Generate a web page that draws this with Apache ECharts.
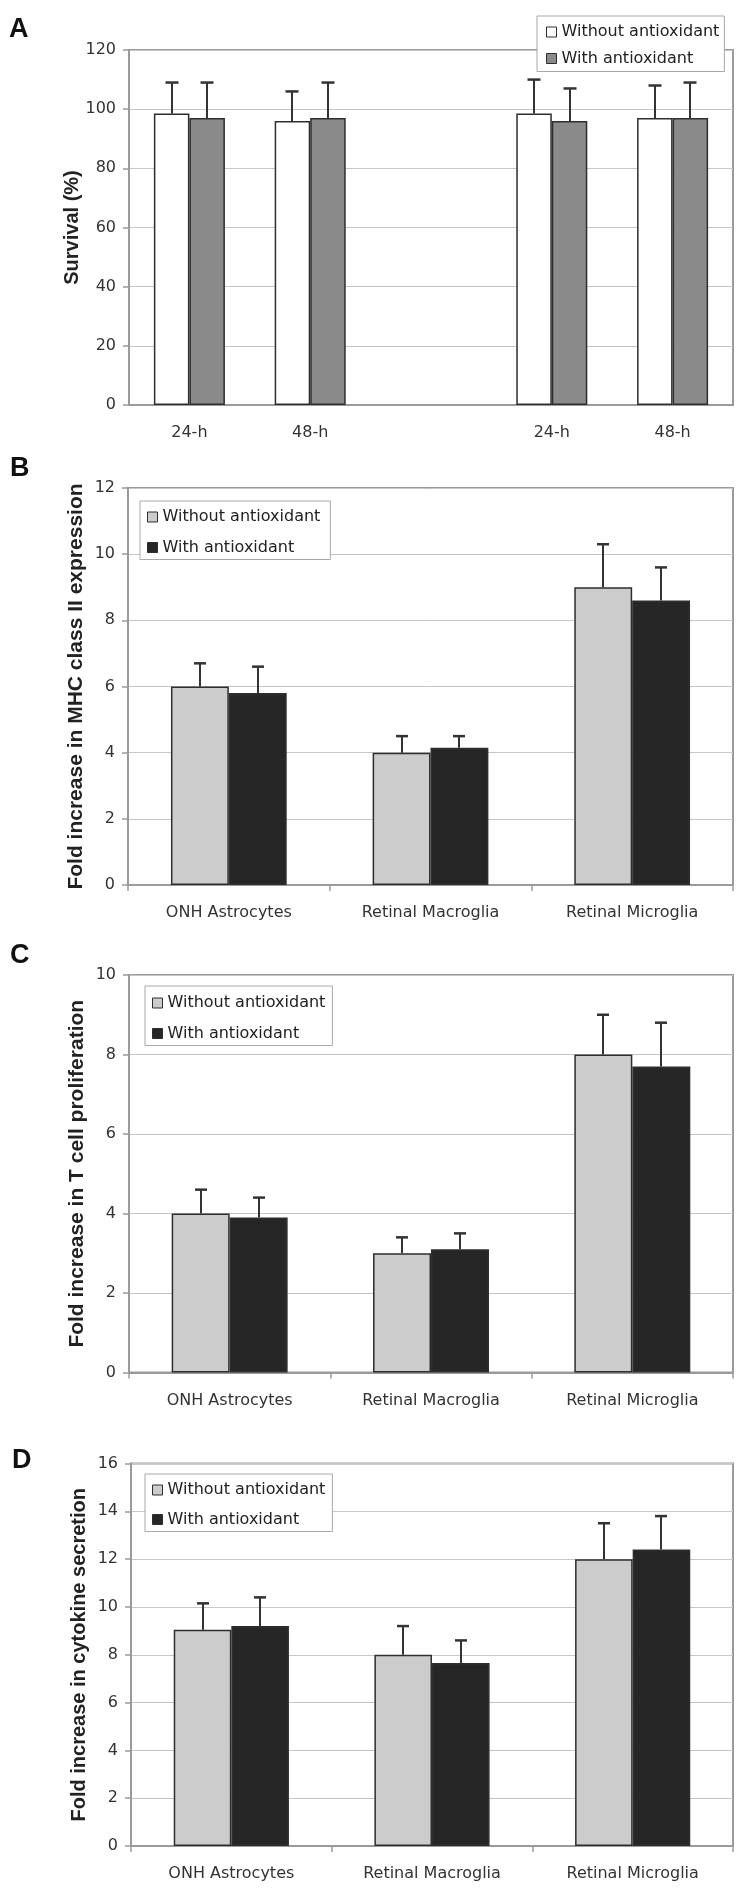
<!DOCTYPE html>
<html>
<head>
<meta charset="utf-8">
<script src="https://cdn.jsdelivr.net/npm/echarts@6/dist/echarts.min.js"></script>
<style>
html,body{margin:0;padding:0;background:#fff;width:750px;height:1894px;overflow:hidden;}
.p{position:absolute;left:0;width:750px;}
</style>
</head>
<body>
<div id="pa" class="p" style="top:0;height:447px"></div>
<div id="pb" class="p" style="top:447px;height:488px"></div>
<div id="pc" class="p" style="top:935px;height:490px"></div>
<div id="pd" class="p" style="top:1425px;height:469px"></div>
<script>
// ---------- data ----------
const legendNames = ['Without antioxidant', 'With antioxidant'];

// Panel A: survival
const survivalCats = ['24-h', '48-h', '', '24-h', '48-h'];
const survivalWithout = [98.5, 96, '-', 98.5, 97];
const survivalWithoutErr = [10.5, 10, '-', 11.5, 11];
const survivalWith = [97, 97, '-', 96, 97];
const survivalWithErr = [12, 12, '-', 11, 12];

// Panels B-D: cell types
const cellCats = ['ONH Astrocytes', 'Retinal Macroglia', 'Retinal Microglia'];

const mhcWithout = [6.0, 4.0, 9.0];
const mhcWithoutErr = [0.7, 0.5, 1.3];
const mhcWith = [5.8, 4.15, 8.6];
const mhcWithErr = [0.8, 0.35, 1.0];

const tcellWithout = [4.0, 3.0, 8.0];
const tcellWithoutErr = [0.6, 0.4, 1.0];
const tcellWith = [3.9, 3.1, 7.7];
const tcellWithErr = [0.5, 0.4, 1.1];

const cytoWithout = [9.05, 8.0, 12.0];
const cytoWithoutErr = [1.1, 1.2, 1.5];
const cytoWith = [9.2, 7.65, 12.4];
const cytoWithErr = [1.2, 0.95, 1.4];

// ---------- helpers ----------
const TICK_FONT = '"DejaVu Sans", Arial, sans-serif';
const TITLE_FONT = '"Liberation Sans", Arial, sans-serif';
const AXIS_GRAY = '#9a9a9a';
const BORDER = '#2e2e2e';

function errSeries(vals, errs, side, pct, capW) {
  const data = [];
  vals.forEach(function (v, i) {
    if (v !== '-' && errs[i] !== '-') data.push([i, v, errs[i]]);
  });
  return {
    type: 'custom', data: data, z: 5, silent: true,
    encode: { x: 0, y: 1 },
    renderItem: function (params, api) {
      const i = api.value(0), v = api.value(1), e = api.value(2);
      const cw = api.size([1, 0])[0];
      const dx = side * cw * pct / 2;
      const p0 = api.coord([i, v]);
      const p1 = api.coord([i, v + e]);
      const x = Math.round(p0[0] + dx);
      return {
        type: 'group', children: [
          { type: 'line', shape: { x1: x, y1: p0[1], x2: x, y2: p1[1] }, style: { stroke: '#333', lineWidth: 2 } },
          { type: 'line', shape: { x1: x - capW / 2, y1: p1[1], x2: x + capW / 2, y2: p1[1] }, style: { stroke: '#333', lineWidth: 2.5 } }
        ]
      };
    }
  };
}

function buildOption(cfg) {
  const pct = cfg.barPct;
  return {
    animation: false,
    backgroundColor: '#fff',
    graphic: [{
      type: 'text', x: cfg.letterX, y: cfg.letterY,
      style: { text: cfg.letter, font: 'bold 27px ' + TITLE_FONT, fill: '#111',
               textAlign: 'left', textVerticalAlign: 'middle', align: 'left', verticalAlign: 'middle' }
    }],
    grid: {
      left: cfg.grid.left, top: cfg.grid.top, width: cfg.grid.width, height: cfg.grid.height,
      show: true, borderColor: AXIS_GRAY, borderWidth: 2, backgroundColor: 'transparent',
      containLabel: false, outerBoundsMode: 'none'
    },
    legend: {
      orient: 'vertical', left: cfg.legend.left, top: cfg.legend.top,
      padding: cfg.legend.padding, itemGap: cfg.legend.itemGap,
      itemWidth: 10, itemHeight: 10, selectedMode: false,
      backgroundColor: '#fff', borderColor: '#a8a8a8', borderWidth: 1, borderRadius: 0,
      textStyle: { fontFamily: TICK_FONT, fontSize: 16, color: '#222', lineHeight: 16 },
      data: [
        { name: legendNames[0], icon: 'rect', itemStyle: { color: cfg.colors[0], borderColor: BORDER, borderWidth: 1 } },
        { name: legendNames[1], icon: 'rect', itemStyle: { color: cfg.colors[1], borderColor: BORDER, borderWidth: 1 } }
      ]
    },
    xAxis: {
      type: 'category', data: cfg.cats, boundaryGap: true,
      axisLine: { show: true, lineStyle: { color: AXIS_GRAY, width: 2 } },
      axisTick: { show: cfg.xTicks, length: 6, lineStyle: { color: AXIS_GRAY, width: 1.5 } },
      axisLabel: { interval: 0, margin: 20, fontFamily: TICK_FONT, fontSize: 16, color: '#333' },
      splitLine: { show: false }
    },
    yAxis: {
      type: 'value', min: cfg.y.min, max: cfg.y.max, interval: cfg.y.interval,
      name: cfg.yName, nameLocation: 'middle', nameGap: cfg.nameGap, nameMoveOverlap: false,
      nameTextStyle: { fontFamily: TITLE_FONT, fontWeight: 'bold', fontSize: cfg.nameSize, color: '#222' },
      axisLine: { show: true, lineStyle: { color: AXIS_GRAY, width: 2 } },
      axisTick: { show: true, length: 6, lineStyle: { color: AXIS_GRAY, width: 1.5 } },
      axisLabel: { margin: 13, fontFamily: TICK_FONT, fontSize: 16, color: '#333' },
      splitLine: { show: true, lineStyle: { color: '#c6c6c6', width: 1 } }
    },
    series: [
      { type: 'bar', name: legendNames[0], data: cfg.without, barWidth: (pct * 100) + '%', barGap: '0%',
        itemStyle: { color: cfg.colors[0], borderColor: BORDER, borderWidth: 1.5 }, silent: true },
      { type: 'bar', name: legendNames[1], data: cfg.withA, barWidth: (pct * 100) + '%', barGap: '0%',
        itemStyle: { color: cfg.colors[1], borderColor: BORDER, borderWidth: 1.5 }, silent: true },
      errSeries(cfg.without, cfg.withoutErr, -1, pct, cfg.capW),
      errSeries(cfg.withA, cfg.withErr, 1, pct, cfg.capW)
    ]
  };
}

const panels = [
  { el: 'pa', letter: 'A', letterX: 9, letterY: 30,
    grid: { left: 129, top: 50, width: 604, height: 355 },
    legend: { left: 537, top: 16, padding: [8, 5, 5, 9], itemGap: 10.5 },
    cats: survivalCats, xTicks: false, y: { min: 0, max: 120, interval: 20 },
    yName: 'Survival (%)', nameGap: 47, nameSize: 20,
    colors: ['#ffffff', '#8a8a8a'], barPct: 0.294, capW: 13,
    without: survivalWithout, withoutErr: survivalWithoutErr, withA: survivalWith, withErr: survivalWithErr },
  { el: 'pb', letter: 'B', letterX: 10, letterY: 22,
    grid: { left: 128, top: 41, width: 605, height: 397 },
    legend: { left: 140, top: 54, padding: [8, 10, 4, 7], itemGap: 14.5 },
    cats: cellCats, xTicks: true, y: { min: 0, max: 12, interval: 2 },
    yName: 'Fold increase in MHC class II expression', nameGap: 41, nameSize: 21,
    colors: ['#cccccc', '#262626'], barPct: 0.287, capW: 12,
    without: mhcWithout, withoutErr: mhcWithoutErr, withA: mhcWith, withErr: mhcWithErr },
  { el: 'pc', letter: 'C', letterX: 10, letterY: 21,
    grid: { left: 129, top: 40, width: 604, height: 397.5 },
    legend: { left: 145, top: 51, padding: [9, 7, 4, 7], itemGap: 14.5 },
    cats: cellCats, xTicks: true, y: { min: 0, max: 10, interval: 2 },
    yName: 'Fold increase in T cell proliferation', nameGap: 41, nameSize: 21,
    colors: ['#cccccc', '#262626'], barPct: 0.288, capW: 12,
    without: tcellWithout, withoutErr: tcellWithoutErr, withA: tcellWith, withErr: tcellWithErr },
  { el: 'pd', letter: 'D', letterX: 12, letterY: 36,
    grid: { left: 131, top: 38.5, width: 602, height: 382.5 },
    legend: { left: 145, top: 49, padding: [8, 7, 4, 7], itemGap: 13.5 },
    cats: cellCats, xTicks: true, y: { min: 0, max: 16, interval: 2 },
    yName: 'Fold increase in cytokine secretion', nameGap: 42, nameSize: 20,
    colors: ['#cccccc', '#262626'], barPct: 0.287, capW: 12,
    without: cytoWithout, withoutErr: cytoWithoutErr, withA: cytoWith, withErr: cytoWithErr }
];

panels.forEach(function (cfg) {
  const chart = echarts.init(document.getElementById(cfg.el));
  chart.setOption(buildOption(cfg));
});
</script>
</body>
</html>
